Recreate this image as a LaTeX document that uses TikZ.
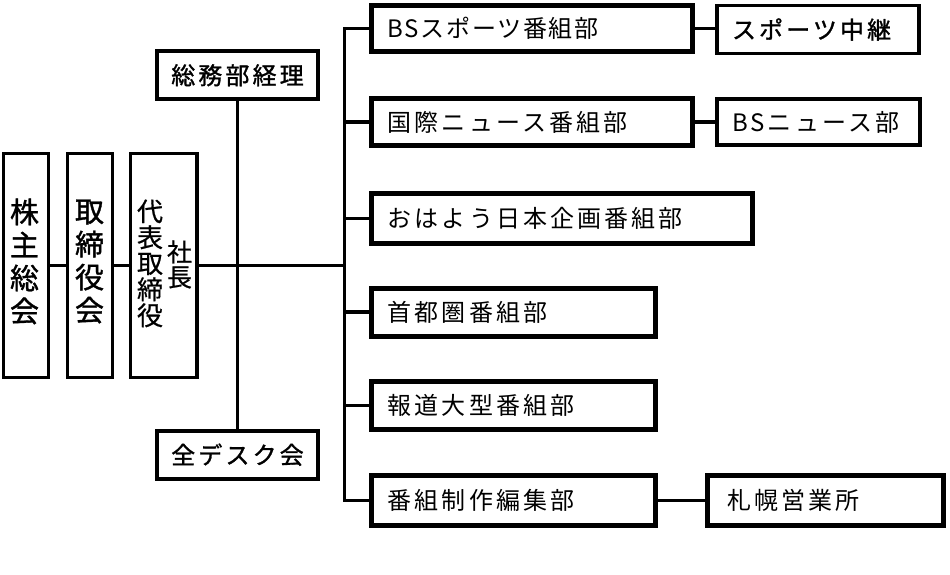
\documentclass[tikz,border=0pt]{standalone}
\usepackage{fontspec}
\setmainfont{Noto Sans CJK JP}[LetterSpace=13]
\newfontfamily\tightjp{Noto Sans CJK JP}[LetterSpace=7]
\newfontfamily\semibjp{Noto Sans CJK JP}[LetterSpace=13, FakeBold=1.2]
\newfontfamily\semibjpv{Noto Sans CJK JP}[FakeBold=1.2]
\newfontfamily\regjpv{Noto Sans CJK JP}[FakeBold=0.6]
\begin{document}
\begin{tikzpicture}[x=1pt,y=-1pt,
  conn/.style={draw=black, line width=3.3pt},
  connthin/.style={draw=black, line width=2.8pt},
  lbox/.style={draw=black, line width=3.3pt, fill=white, inner sep=0pt},
  mbox/.style={draw=black, line width=4pt, fill=white, inner sep=0pt, font=\semibjp\fontsize{24}{28}\selectfont},
  rbox/.style={draw=black, line width=5pt, fill=white, inner xsep=16pt, inner ysep=0pt, align=left, font=\fontsize{24}{28}\selectfont},
  sbox/.style={draw=black, line width=3.3pt, fill=white, inner xsep=15pt, inner ysep=0pt, align=left, font=\fontsize{24}{28}\selectfont},
  vtextbig/.style={inner sep=0pt, align=center, font=\semibjpv\fontsize{29}{33}\selectfont},
  vtextmid/.style={inner sep=0pt, align=center, font=\regjpv\fontsize{26}{26}\selectfont},
  vtextsm/.style={inner sep=0pt, align=center, font=\regjpv\fontsize{25}{25}\selectfont}
]
\useasboundingbox (0,0) rectangle (950,575);
\fill[white] (0,0) rectangle (950,575);

\coordinate (busx) at (344.3,0);

% left column boxes
\node[lbox, minimum width=45pt, minimum height=224.4pt] (kabu) at (25.8,265.5) {};
\node[lbox, minimum width=45.4pt, minimum height=224.4pt] (tori) at (90,265.5) {};
\node[lbox, minimum width=66.3pt, minimum height=224.4pt] (pres) at (163.85,265.5) {};
\node[vtextbig] (kabut) at (24.5,261.5) {株\\主\\総\\会};
\node[vtextbig] (torit) at (89.5,261.5) {取\\締\\役\\会};
\node[vtextmid] (presa) at (150,263.4) {代\\表\\取\\締\\役};
\node[vtextsm] (presb) at (179.5,264.5) {社\\長};

% general affairs / desk
\node[mbox, minimum width=161pt, minimum height=48.5pt] (somu) at (237.5,75.25) {総務部経理};
\node[mbox, minimum width=161pt, minimum height=48.5pt] (desk) at (237.5,454.75) {全デスク会};

% right column
\node[rbox, text width=288.8pt, minimum height=46.7pt, font=\tightjp\fontsize{24}{28}\selectfont] (bsport) at (532.1,28.65) {BSスポーツ番組部};
\node[sbox, text width=172pt, minimum height=47.6pt, font=\semibjp\fontsize{24}{28}\selectfont] (sportchu) at (818,29.5) {スポーツ中継};
\node[rbox, text width=288.8pt, minimum height=46.6pt] (kokusai) at (532.1,122) {国際ニュース番組部};
\node[sbox, text width=173pt, minimum height=46pt] (bsnews) at (818.5,122) {BSニュース部};
\node[rbox, text width=348.3pt, minimum height=49.2pt] (ohayo) at (561.85,218.4) {おはよう日本企画番組部};
\node[rbox, text width=251.6pt, minimum height=48pt] (shuto) at (513.5,312) {首都圏番組部};
\node[rbox, text width=251.6pt, minimum height=48.2pt] (hodo) at (513.5,405.4) {報道大型番組部};
\node[rbox, text width=251.6pt, minimum height=50pt] (seisaku) at (513.5,500.5) {番組制作編集部};
\node[rbox, inner xsep=20pt, text width=196pt, minimum height=50pt] (sapporo) at (825,500.5) {札幌営業所};

% connectors
\draw[conn] (kabu.east) -- (tori.west);
\draw[conn] (tori.east) -- (pres.west);
\draw[conn] (pres.east) -- (busx |- pres.east);
\draw[conn] (somu.south) -- (desk.north);
\draw[conn] (bsport.west) -| (busx |- seisaku.west) -- (seisaku.west);
\draw[conn] (busx |- kokusai.west) -- (kokusai.west);
\draw[conn] (busx |- ohayo.west) -- (ohayo.west);
\draw[conn] (busx |- shuto.west) -- (shuto.west);
\draw[conn] (busx |- hodo.west) -- (hodo.west);
\draw[conn] (bsport.east) -- (bsport.east -| sportchu.west);
\draw[conn] (kokusai.east) -- (kokusai.east -| bsnews.west);
\draw[connthin] (seisaku.east) -- (seisaku.east -| sapporo.west);
\end{tikzpicture}
\end{document}
